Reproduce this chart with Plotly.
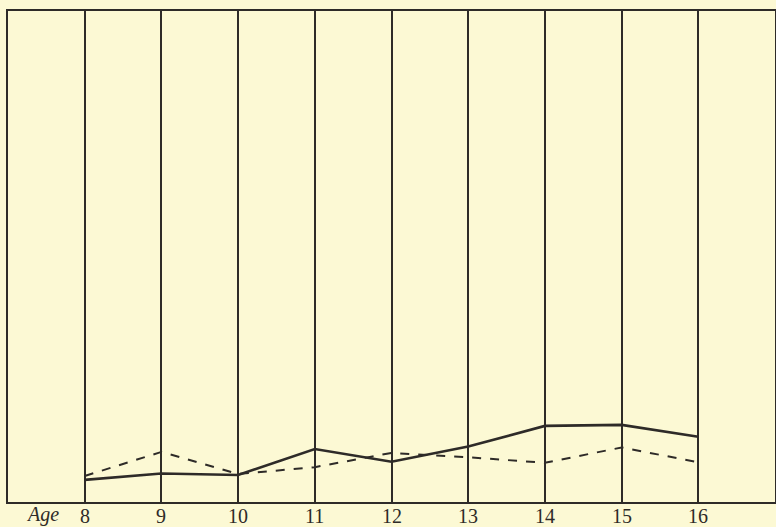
import plotly.graph_objects as go

ages = [8, 9, 10, 11, 12, 13, 14, 15, 16]
tick_labels = ["8", "9", "10", "11", "12", "13", "14", "15", "16"]
solid_values = [4.5, 5.8, 5.5, 10.8, 8.2, 11.3, 15.5, 15.7, 13.3]
dashed_values = [5.3, 10.2, 5.7, 7.1, 10.0, 9.1, 8.0, 11.1, 8.1]

ink = "#2e2b28"
paper = "#fcf9d4"

fig = go.Figure()
fig.add_trace(go.Scatter(x=ages, y=solid_values, mode="lines",
                         line=dict(color=ink, width=2.6), showlegend=False))
fig.add_trace(go.Scatter(x=ages, y=dashed_values, mode="lines",
                         line=dict(color=ink, width=2, dash="dash"), showlegend=False))

label_font = dict(family="Liberation Serif", size=20, color=ink)
fig.add_annotation(text="<i>Age</i>", x=7.45, y=0, xref="x", yref="paper",
                   yanchor="middle", yshift=-12, showarrow=False,
                   font=dict(family="Liberation Serif", size=20, color=ink))
for a, lab in zip(ages, tick_labels):
    fig.add_annotation(text=lab, x=a, y=0, xref="x", yref="paper",
                       yanchor="middle", yshift=-14, showarrow=False,
                       font=label_font)

fig.update_layout(
    width=776, height=527,
    margin=dict(l=8, r=1, t=11, b=25),
    paper_bgcolor=paper, plot_bgcolor=paper,
    font=label_font,
)
fig.update_xaxes(range=[7, 17], tickvals=ages, showticklabels=False,
                 showgrid=True, gridcolor=ink, gridwidth=2,
                 showline=True, mirror=True, linecolor=ink, linewidth=2,
                 ticks="", zeroline=False, automargin=False)
fig.update_yaxes(range=[0, 100], showticklabels=False, showgrid=False,
                 showline=True, mirror=True, linecolor=ink, linewidth=2,
                 ticks="", zeroline=False, automargin=False)

fig.write_html("out.html", config={"displayModeBar": False},
               post_script="document.body.style.margin='0';document.body.style.background='%s';" % paper)
